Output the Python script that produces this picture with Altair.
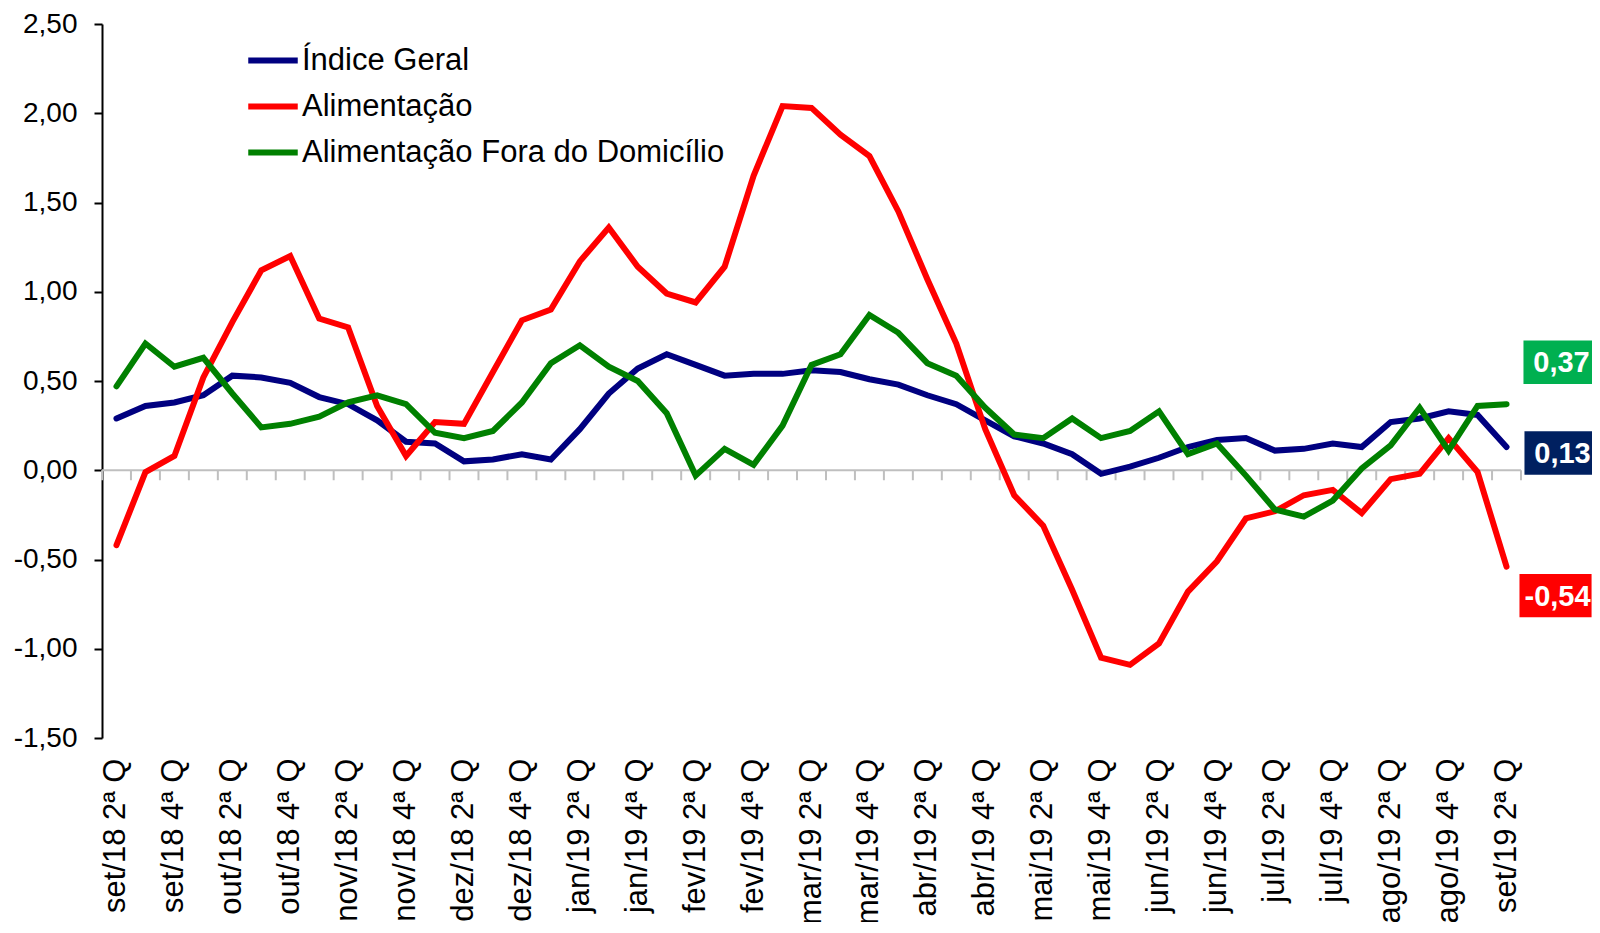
import altair as alt
import pandas as pd

categories = [
    "set/18 2ª Q", "set/18 3ª Q", "set/18 4ª Q",
    "out/18 1ª Q", "out/18 2ª Q", "out/18 3ª Q", "out/18 4ª Q",
    "nov/18 1ª Q", "nov/18 2ª Q", "nov/18 3ª Q", "nov/18 4ª Q",
    "dez/18 1ª Q", "dez/18 2ª Q", "dez/18 3ª Q", "dez/18 4ª Q",
    "jan/19 1ª Q", "jan/19 2ª Q", "jan/19 3ª Q", "jan/19 4ª Q",
    "fev/19 1ª Q", "fev/19 2ª Q", "fev/19 3ª Q", "fev/19 4ª Q",
    "mar/19 1ª Q", "mar/19 2ª Q", "mar/19 3ª Q", "mar/19 4ª Q",
    "abr/19 1ª Q", "abr/19 2ª Q", "abr/19 3ª Q", "abr/19 4ª Q",
    "mai/19 1ª Q", "mai/19 2ª Q", "mai/19 3ª Q", "mai/19 4ª Q",
    "jun/19 1ª Q", "jun/19 2ª Q", "jun/19 3ª Q", "jun/19 4ª Q",
    "jul/19 1ª Q", "jul/19 2ª Q", "jul/19 3ª Q", "jul/19 4ª Q",
    "ago/19 1ª Q", "ago/19 2ª Q", "ago/19 3ª Q", "ago/19 4ª Q",
    "set/19 1ª Q", "set/19 2ª Q",
]
tick_labels = categories[::2]

indice_geral = [
    0.29, 0.36, 0.38, 0.42, 0.53, 0.52, 0.49, 0.41, 0.37, 0.28,
    0.16, 0.15, 0.05, 0.06, 0.09, 0.06, 0.23, 0.43, 0.57, 0.65,
    0.59, 0.53, 0.54, 0.54, 0.56, 0.55, 0.51, 0.48, 0.42, 0.37,
    0.28, 0.19, 0.15, 0.09, -0.02, 0.02, 0.07, 0.13, 0.17, 0.18,
    0.11, 0.12, 0.15, 0.13, 0.27, 0.29, 0.33, 0.31, 0.13,
]
alimentacao = [
    -0.42, -0.01, 0.08, 0.52, 0.83, 1.12, 1.20, 0.85, 0.80, 0.36,
    0.08, 0.27, 0.26, 0.55, 0.84, 0.90, 1.17, 1.36, 1.14, 0.99,
    0.94, 1.14, 1.65, 2.04, 2.03, 1.88, 1.76, 1.45, 1.07, 0.71,
    0.23, -0.14, -0.31, -0.67, -1.05, -1.09, -0.97, -0.68, -0.51, -0.27,
    -0.23, -0.14, -0.11, -0.24, -0.05, -0.02, 0.18, -0.01, -0.54,
]
fora_domicilio = [
    0.47, 0.71, 0.58, 0.63, 0.43, 0.24, 0.26, 0.30, 0.38, 0.42,
    0.37, 0.21, 0.18, 0.22, 0.38, 0.60, 0.70, 0.58, 0.50, 0.32,
    -0.03, 0.12, 0.03, 0.25, 0.59, 0.65, 0.87, 0.77, 0.60, 0.53,
    0.35, 0.20, 0.18, 0.29, 0.18, 0.22, 0.33, 0.09, 0.15, -0.03,
    -0.22, -0.26, -0.17, 0.01, 0.14, 0.35, 0.11, 0.36, 0.37,
]

series_names = ["Índice Geral", "Alimentação", "Alimentação Fora do Domicílio"]
series_values = [indice_geral, alimentacao, fora_domicilio]
line_colors = ["#000080", "#FF0000", "#008000"]
box_colors = ["#002060", "#FF0000", "#00B050"]
box_dy = [6, 29, -42]
box_dx = [54, 49, 53]
y_ticks = [-1.5, -1.0, -0.5, 0.0, 0.5, 1.0, 1.5, 2.0, 2.5]

FONT = "Liberation Sans"
W, H = 1419, 714
YMIN, YMAX = -1.5, 2.5
GRAY = "#BFBFBF"

rows = []
for name, vals in zip(series_names, series_values):
    for cat, v in zip(categories, vals):
        rows.append({"periodo": cat, "serie": name, "valor": v})
df = pd.DataFrame(rows)
cat_df = pd.DataFrame({"periodo": categories})

x_scale = alt.Scale(type="band", paddingInner=0, paddingOuter=0)
y_scale = alt.Scale(domain=[YMIN, YMAX], nice=False, zero=False)

label_axis = alt.Axis(
    orient="bottom", title=None, domain=False, ticks=False, tickSize=0,
    values=tick_labels, labelAngle=-90, labelFontSize=31, labelFont=FONT,
    labelColor="#000000", labelPadding=20, labelOverlap=False, labelBound=False,
    labelLimit=0,
)
y_axis = alt.Axis(
    orient="left", title=None, values=y_ticks, grid=False,
    domainColor="#000000", domainWidth=2,
    tickColor="#000000", tickWidth=2, tickSize=8, labelFontSize=28, labelFont=FONT,
    labelColor="#000000", labelPadding=17,
    labelExpr="(datum.value < 0 ? '-' : '') + replace(format(abs(datum.value), '.2f'), '.', ',')",
)


def x_enc(band_pos):
    return alt.X("periodo:N", sort=categories, scale=x_scale,
                 bandPosition=band_pos, axis=label_axis)


y_val = alt.Y("valor:Q", scale=y_scale, axis=y_axis)
y_zero = alt.YDatum(0, scale=y_scale, axis=y_axis)

# zero line (gray category axis) drawn from the scales
zero_line = alt.Chart(cat_df).mark_rule(color=GRAY, strokeWidth=2).encode(
    x=x_enc(0.5), y=y_zero,
).transform_filter(alt.datum.periodo == "__none__")
zero_rule = alt.Chart(cat_df.head(1)).mark_rule(color=GRAY, strokeWidth=2).encode(
    y=y_zero,
)
zero_ticks = alt.Chart(cat_df).mark_tick(
    orient="vertical", size=10, thickness=2, color=GRAY, yOffset=5, opacity=1,
).encode(x=x_enc(1), y=y_zero)
first_tick = alt.Chart(cat_df.head(1)).mark_tick(
    orient="vertical", size=10, thickness=2, color=GRAY, yOffset=5, opacity=1,
).encode(x=x_enc(0), y=y_zero)

lines = alt.Chart(df).mark_line(strokeWidth=6, strokeCap="round").encode(
    x=x_enc(0.5),
    y=y_val,
    color=alt.Color(
        "serie:N",
        scale=alt.Scale(domain=series_names, range=line_colors),
        legend=alt.Legend(
            orient="none", legendX=145.5, legendY=11, title=None,
            symbolType="M-1.1,0H1.1", symbolSize=2025, symbolStrokeWidth=6,
            labelFontSize=31, labelFont=FONT, labelColor="#000000",
            labelOffset=3.5, rowPadding=5, padding=0, labelLimit=0,
            direction="vertical",
        ),
    ),
    detail="serie:N",
)

layers = [zero_rule, zero_ticks, first_tick, lines]
for name, vals, bcol, dy, dx in zip(series_names, series_values, box_colors, box_dy, box_dx):
    ldf = pd.DataFrame({
        "periodo": [categories[-1]],
        "valor": [vals[-1]],
        "texto": [f"{vals[-1]:.2f}".replace(".", ",")],
    })
    base = alt.Chart(ldf).encode(x=x_enc(0.5), y=y_val)
    box = base.mark_point(
        shape="M-1.03,-0.62H1.03V0.62H-1.03Z", size=4900, filled=True, opacity=1,
        fill=bcol, strokeWidth=0, xOffset=dx, yOffset=dy,
    )
    txt = base.mark_text(
        font=FONT, fontSize=29, fontWeight="bold", color="#FFFFFF",
        align="center", baseline="middle", dx=dx + 2, dy=dy + 1,
    ).encode(text="texto:N")
    layers += [box, txt]

chart = alt.layer(*layers).properties(
    width=W, height=H,
    autosize=alt.AutoSizeParams(type="none"),
    padding={"left": 94, "top": 16, "right": 71, "bottom": 184},
).configure_view(stroke=None)

chart.save("out.html", embed_options={"renderer": "svg", "actions": False})
